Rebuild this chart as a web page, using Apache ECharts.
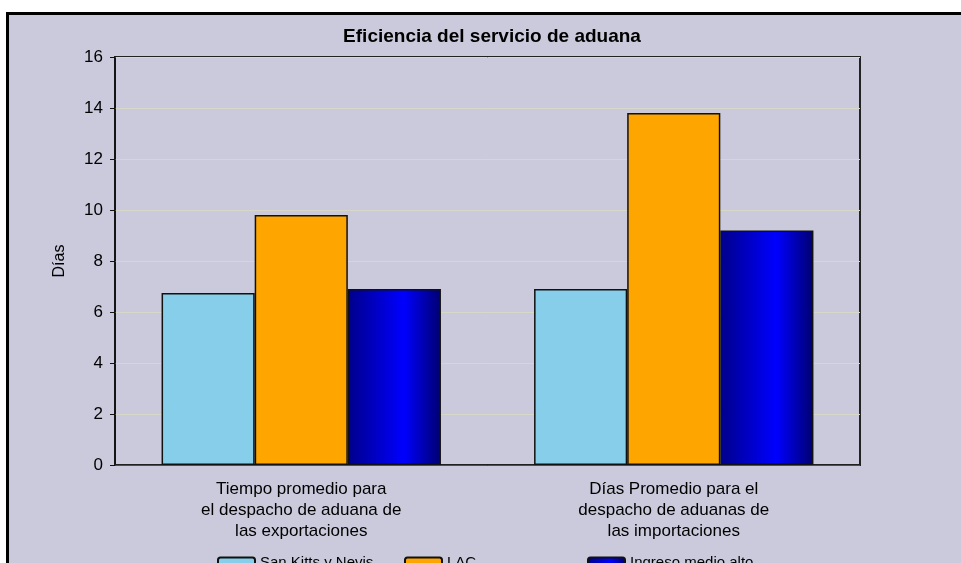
<!DOCTYPE html>
<html>
<head>
<meta charset="utf-8">
<script src="https://cdn.jsdelivr.net/npm/echarts@6/dist/echarts.min.js"></script>
<style>
html,body{margin:0;padding:0;background:#fff;}
#c{width:961px;height:563px;}
</style>
</head>
<body>
<div id="c"></div>
<script>
const categories = [
  "Tiempo promedio para\nel despacho de aduana de\nlas exportaciones",
  "Días Promedio para el\ndespacho de aduanas de\nlas importaciones"
];
const seriesNames = ["San Kitts y Nevis", "LAC", "Ingreso medio alto"];
const sanKitts = [6.75, 6.9];
const lac = [9.8, 13.8];
const ingresoMedioAlto = [6.9, 9.2];
const yTicks = { min: 0, max: 16, interval: 2 };

const chart = echarts.init(document.getElementById('c'));
const blueGrad = new echarts.graphic.LinearGradient(0, 0, 1, 0, [
  { offset: 0, color: '#00008a' },
  { offset: 0.6, color: '#0000ff' },
  { offset: 1, color: '#000070' }
]);
const barBorder = { borderColor: '#111', borderWidth: 1.5 };
const font = 'Liberation Sans, Arial, sans-serif';

chart.setOption({
  backgroundColor: '#cacadc',
  animation: false,
  textStyle: { fontFamily: font },
  title: {
    text: 'Eficiencia del servicio de aduana',
    left: 487, top: 22, textAlign: 'center',
    textStyle: { fontSize: 19, fontWeight: 'bold', color: '#000', fontFamily: font }
  },
  grid: {
    left: 115, right: 101, top: 57, bottom: 98,
    show: true, borderColor: '#222', borderWidth: 2, backgroundColor: 'transparent'
  },
  legend: [
    { data: [seriesNames[0]], left: 212, top: 550, itemWidth: 37, itemHeight: 10, itemGap: 8,
      textStyle: { fontSize: 15, color: '#000', fontFamily: font } },
    { data: [seriesNames[1]], left: 399, top: 550, itemWidth: 37, itemHeight: 10,
      textStyle: { fontSize: 15, color: '#000', fontFamily: font } },
    { data: [seriesNames[2]], left: 582, top: 550, itemWidth: 37, itemHeight: 10,
      textStyle: { fontSize: 15, color: '#000', fontFamily: font } }
  ],
  xAxis: {
    type: 'category',
    data: categories,
    axisLine: { lineStyle: { color: '#222', width: 1.5 } },
    axisTick: { show: false },
    axisLabel: { color: '#000', fontSize: 17, lineHeight: 21, margin: 14, interval: 0, fontFamily: font }
  },
  yAxis: {
    type: 'value',
    min: yTicks.min, max: yTicks.max, interval: yTicks.interval,
    name: 'Días', nameLocation: 'middle', nameGap: 47, nameRotate: 90,
    nameTextStyle: { fontSize: 16, color: '#000', fontFamily: font },
    axisLine: { show: true, lineStyle: { color: '#111', width: 1.5 } },
    axisTick: { show: true, length: 5, lineStyle: { color: '#111' } },
    axisLabel: { color: '#000', fontSize: 17, margin: 12, fontFamily: font },
    splitLine: { lineStyle: { color: '#d8d8c8', width: 1 } }
  },
  series: [
    { name: seriesNames[0], type: 'bar', data: sanKitts, barGap: '0%', barCategoryGap: '25%',
      itemStyle: Object.assign({ color: '#87ceeb' }, barBorder) },
    { name: seriesNames[1], type: 'bar', data: lac, barGap: '0%', barCategoryGap: '25%',
      itemStyle: Object.assign({ color: '#ffa500' }, barBorder) },
    { name: seriesNames[2], type: 'bar', data: ingresoMedioAlto, barGap: '0%', barCategoryGap: '25%',
      itemStyle: Object.assign({ color: blueGrad }, barBorder) }
  ],
  graphic: [
    { type: 'rect', silent: true, z: 100, shape: { x: 0, y: 0, width: 961, height: 12 }, style: { fill: '#fff' } },
    { type: 'rect', silent: true, z: 100, shape: { x: 0, y: 0, width: 6, height: 563 }, style: { fill: '#fff' } },
    { type: 'rect', silent: true, z: 100, shape: { x: 6, y: 12, width: 955, height: 3 }, style: { fill: '#000' } },
    { type: 'rect', silent: true, z: 100, shape: { x: 6, y: 12, width: 3, height: 551 }, style: { fill: '#000' } }
  ]
});
</script>
</body>
</html>
